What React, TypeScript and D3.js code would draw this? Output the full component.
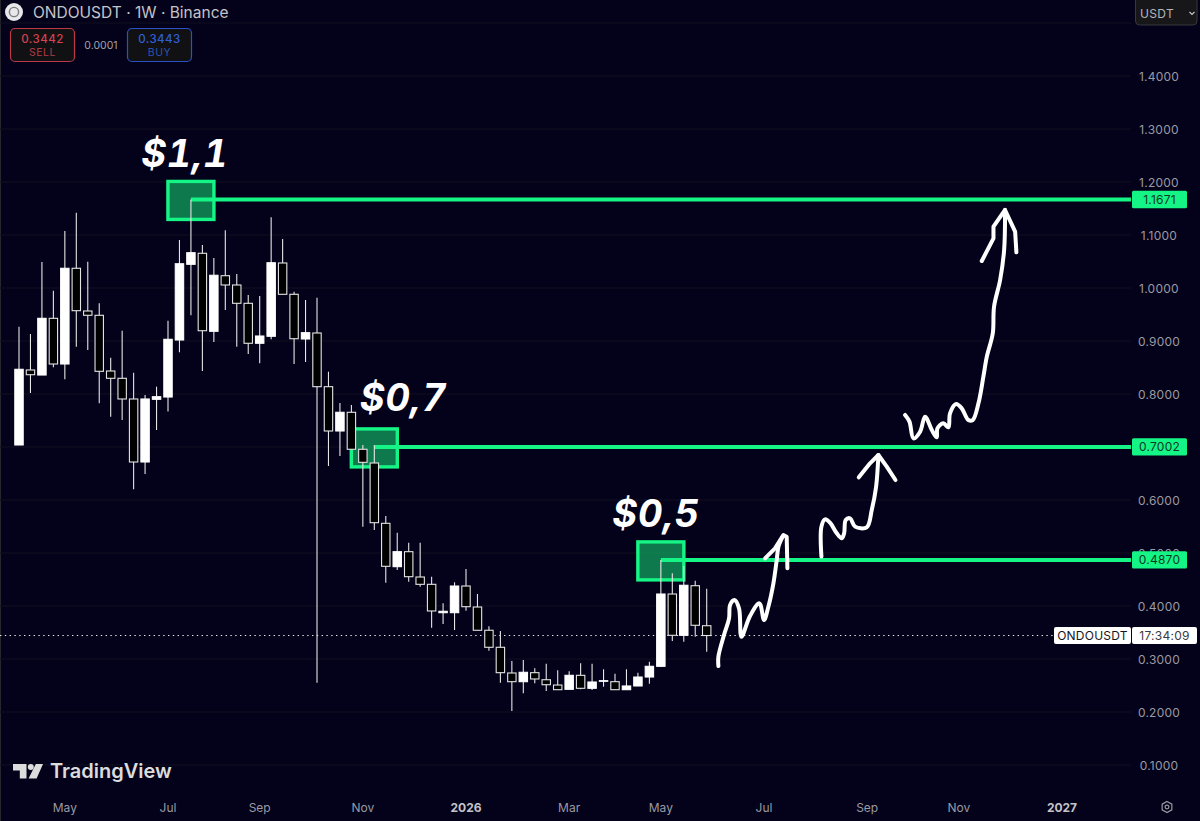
import * as d3 from 'd3'

const opens = [0.7038,0.8453,0.8358,0.9428,0.8566,1.0372,0.9566,0.9485,0.8434,0.8296,0.7906,0.6717,0.79,0.7943,0.9019,1.0447,1.0655,0.9183,1.0232,1.0057,0.9711,0.8957,0.9089,1.0472,0.9881,0.9038,0.9151,0.8138,0.7302,0.7655,0.6957,0.6698,0.556,0.4742,0.5025,0.4547,0.4409,0.3874,0.3874,0.4377,0.3981,0.3542,0.3221,0.2736,0.2572,0.2742,0.2609,0.2509,0.2428,0.2692,0.2447,0.2579,0.2572,0.2421,0.2491,0.266,0.2862,0.4226,0.3447,0.4383,0.3628]
const highs = [0.927,0.9132,1.0491,0.9949,1.1075,1.1421,1.0496,0.9711,0.8685,0.9194,0.8402,0.7981,0.8138,0.9383,1.0906,1.1671,1.0811,1.0566,1.1089,1.0264,0.9868,0.9849,1.1334,1.0925,0.993,0.9774,0.9817,0.8421,0.783,0.7792,0.7038,0.7038,0.5698,0.5383,0.5194,0.5194,0.4553,0.4051,0.4447,0.4698,0.4226,0.3617,0.3528,0.2962,0.2981,0.2825,0.2911,0.2787,0.2768,0.2919,0.2911,0.2806,0.2723,0.2806,0.2742,0.2949,0.487,0.4617,0.4755,0.4477,0.4326]
const lows = [0.7038,0.8019,0.8358,0.8504,0.8277,0.8892,0.883,0.7825,0.7572,0.7509,0.6202,0.6491,0.7321,0.767,0.8787,0.9485,0.8434,0.8981,0.9585,0.8892,0.8755,0.8579,0.9032,0.9881,0.8566,0.8604,0.2553,0.6642,0.683,0.6957,0.5496,0.5434,0.444,0.4679,0.4458,0.4364,0.3591,0.366,0.3547,0.3911,0.3542,0.3157,0.2553,0.2019,0.2353,0.2542,0.2396,0.2415,0.2428,0.2428,0.2415,0.2477,0.2421,0.2421,0.2491,0.2534,0.2849,0.334,0.3326,0.3421,0.3138]
const closes = [0.8466,0.8364,0.9428,0.8566,1.0372,0.9572,0.9485,0.8428,0.8296,0.7906,0.6717,0.7906,0.7949,0.9032,1.0458,1.0666,0.9194,1.024,1.0057,0.9711,0.8957,0.9094,1.0477,0.9881,0.9043,0.9157,0.8138,0.7302,0.7655,0.6957,0.6711,0.5572,0.4749,0.5025,0.4553,0.4409,0.3906,0.39,0.4377,0.3987,0.3542,0.3221,0.2742,0.2572,0.2749,0.2623,0.2515,0.2421,0.2692,0.2447,0.2566,0.2591,0.2421,0.2491,0.266,0.2862,0.4226,0.3447,0.4391,0.3636,0.3443]

const priceTicks = [1.4, 1.3, 1.2, 1.1, 1.0, 0.9, 0.8, 0.7, 0.6, 0.5, 0.4, 0.3, 0.2, 0.1]
const gridOnly = [1.5]

const timeBars = [4, 13, 21, 30, 39, 48, 56, 65, 74, 82, 91]
const timeLabels = ['May', 'Jul', 'Sep', 'Nov', '2026', 'Mar', 'May', 'Jul', 'Sep', 'Nov', '2027']

// drawn levels: bar where the line starts, the price, and what was written over it
const levelBars = [15, 31, 56]
const levelPrices = [1.1671, 0.7002, 0.487]
const levelNames = ['$1,1', '$0,7', '$0,5']
const levelNameShift = [-6, 29, -5]
const levelNameRise = [33, 37, 34]

const lastPrice = 0.3443

// hand drawn arrows as [bar, price]
const arrowA: [number, number][] = [[61.02,0.2868],[61.02,0.3044],[61.51,0.3453],[61.95,0.3767],[62.04,0.4019],[62.42,0.4113],[62.82,0.3956],[63.03,0.3421],[63.78,0.3811],[64.6,0.405],[65.0,0.3736],[65.38,0.3987],[65.82,0.4428],[66.11,0.4868],[66.26,0.5119],[66.63,0.5308]]
const arrowAHead: [number, number][] = [[65.09,0.4899],[65.96,0.5088],[66.69,0.534],[66.98,0.5308],[67.04,0.4711]]
const arrowB: [number, number][] = [[70.01,0.4931],[70.01,0.5497],[70.33,0.5635],[70.76,0.5572],[71.35,0.5371],[71.78,0.5277],[71.99,0.5371],[72.13,0.5623],[72.51,0.5654],[72.95,0.5497],[73.96,0.5484],[74.4,0.5811],[74.78,0.6252],[74.98,0.6849]]
const arrowBHead: [number, number][] = [[73.27,0.6428],[74.25,0.6692],[74.98,0.6849],[75.71,0.6629],[76.47,0.6377]]
const arrowC: [number, number][] = [[77.31,0.7604],[77.69,0.7478],[78.04,0.7163],[78.62,0.7289],[79.05,0.7572],[79.64,0.7321],[80.07,0.7182],[80.13,0.7352],[80.65,0.7446],[81.09,0.7371],[81.23,0.7635],[81.76,0.7811],[82.25,0.7729],[82.83,0.7509],[83.21,0.7509],[83.71,0.7824],[84.14,0.8327],[84.44,0.8704],[84.96,0.9145],[85.07,0.9648],[85.6,1.0151],[85.95,1.0717],[86.03,1.1472]]
const arrowCHead: [number, number][] = [[84.0,1.0509],[85.02,1.0937],[85.02,1.1157],[86.03,1.1472],[86.91,1.1063],[87.02,1.0673]]

const COLORS = {
  BG: '#04021a',
  GRID: '#0f0e20',
  GREEN: '#15f585',
  AXIS: '#9a9aa2',
}
const UI_FONT = 'Inter, "Noto Sans", sans-serif'

export default function App() {
  const width = 1200
  const height = 821
  const plotRight = 1131

  const x = d3.scaleLinear().domain([0, 60]).range([19, 706.7])
  const y = d3.scaleLinear().domain([0.4, 0.3]).range([606, 659])

  const stroke = d3.line<[number, number]>()
    .x(d => x(d[0]))
    .y(d => y(d[1]))
    .curve(d3.curveCatmullRom.alpha(0.5))
  const head = d3.line<[number, number]>()
    .x(d => x(d[0]))
    .y(d => y(d[1]))

  const bodyWidth = 8.4

  return (
    <svg
      width={width}
      height={height}
      viewBox={`0 0 ${width} ${height}`}
      style={{position: 'absolute', left: 0, top: 0, display: 'block'}}
      fontFamily={UI_FONT}
    >
      <rect width={width} height={height} fill={COLORS.BG} />
      <line x1={0.5} x2={0.5} y1={0} y2={height} stroke={'#26262e'} />

      {/* grid */}
      {[...gridOnly, ...priceTicks].map(p => (
        <line key={p} x1={0} x2={plotRight} y1={y(p)} y2={y(p)} stroke={COLORS.GRID} strokeWidth={1.2} />
      ))}

      {/* level boxes sit under the candles */}
      {levelBars.map((b, i) => (
        <rect
          key={b}
          x={x(b) - 23}
          y={y(levelPrices[i]) + 1 - 19}
          width={46}
          height={38}
          fill={'rgba(22,240,127,0.5)'}
          stroke={COLORS.GREEN}
          strokeWidth={3.4}
        />
      ))}
      {levelBars.map((b, i) => (
        <line
          key={b}
          x1={x(b)}
          x2={plotRight}
          y1={y(levelPrices[i])}
          y2={y(levelPrices[i])}
          stroke={COLORS.GREEN}
          strokeWidth={4}
        />
      ))}

      {/* last price line */}
      <line
        x1={0}
        x2={1054}
        y1={y(lastPrice)}
        y2={y(lastPrice)}
        stroke={'#e8e8e8'}
        strokeDasharray={'1.4 3.4'}
      />

      {/* candles */}
      {opens.map((o, i) => {
        const c = closes[i]
        const up = c >= o
        const top = y(Math.max(o, c))
        const bottom = y(Math.min(o, c))
        return (
          <g key={i}>
            <line x1={x(i)} x2={x(i)} y1={y(highs[i])} y2={y(lows[i])} stroke={'#e6e6e6'} strokeWidth={1.1} />
            <rect
              x={x(i) - bodyWidth / 2}
              y={top}
              width={bodyWidth}
              height={Math.max(bottom - top, 0.6)}
              fill={up ? '#ffffff' : '#000000'}
              stroke={up ? '#ffffff' : '#e4e4e4'}
              strokeWidth={1.1}
            />
          </g>
        )
      })}

      {/* hand drawn arrows */}
      <g fill={'none'} stroke={'#ffffff'} strokeWidth={4} strokeLinecap={'round'} strokeLinejoin={'round'}>
        {[arrowA, arrowB, arrowC].map((a, i) => <path key={i} d={stroke(a) ?? undefined} />)}
        {[arrowAHead, arrowBHead, arrowCHead].map((a, i) => <path key={i} d={head(a) ?? undefined} />)}
      </g>

      {/* written level names */}
      {levelBars.map((b, i) => (
        <text
          key={b}
          x={x(b) + levelNameShift[i]}
          y={y(levelPrices[i]) + 1 - levelNameRise[i]}
          textAnchor={'middle'}
          fill={'#ffffff'}
          fontSize={38}
          fontWeight={700}
          fontStyle={'italic'}
          letterSpacing={'0.02em'}
          style={{fontVariantNumeric: 'tabular-nums'}}
        >
          {levelNames[i]}
        </text>
      ))}

      {/* price axis */}
      <g fontSize={12} fill={COLORS.AXIS} textAnchor={'middle'} letterSpacing={'0.02em'}>
        {priceTicks.map(p => (
          <text key={p} x={1159} y={y(p) + 4.5}>{p.toFixed(4)}</text>
        ))}
      </g>
      {levelPrices.map(p => (
        <g key={p}>
          <rect x={1132} y={y(p) - 8.7} width={55} height={17.4} rx={1.5} fill={COLORS.GREEN} />
          <text x={1159.5} y={y(p) + 4.5} textAnchor={'middle'} fontSize={12} fill={'#0c3a26'} letterSpacing={'0.02em'}>
            {p.toFixed(4)}
          </text>
        </g>
      ))}

      {/* last price tag */}
      <rect x={1054} y={y(lastPrice) - 8.5} width={77} height={17} rx={2} fill={'#ffffff'} />
      <rect x={1132} y={y(lastPrice) - 8.5} width={65} height={17} rx={2} fill={'#ffffff'} />
      <text x={1092.5} y={y(lastPrice) + 4.5} textAnchor={'middle'} fontSize={12} fill={'#16161a'} letterSpacing={'0.02em'}>ONDOUSDT</text>
      <text x={1164.5} y={y(lastPrice) + 4.5} textAnchor={'middle'} fontSize={12} fill={'#3a3a40'} letterSpacing={'0.02em'}>17:34:09</text>

      {/* time axis */}
      <g fontSize={12} fill={COLORS.AXIS} textAnchor={'middle'}>
        {timeBars.map((b, i) => (
          <text
            key={b}
            x={x(b)}
            y={812}
            fontWeight={timeLabels[i].length === 4 ? 700 : 400}
            fill={timeLabels[i].length === 4 ? '#c4c4c8' : COLORS.AXIS}
          >
            {timeLabels[i]}
          </text>
        ))}
      </g>
      <g fill={'none'} stroke={COLORS.AXIS} strokeWidth={1.2}>
        <path d={d3.lineRadial().angle((_, i) => i * Math.PI / 3).radius(5.6).curve(d3.curveLinearClosed)([[0, 0], [0, 0], [0, 0], [0, 0], [0, 0], [0, 0]]) ?? undefined} transform={'translate(1167,807)'} />
        <circle cx={1167} cy={807} r={1.9} />
      </g>

      {/* watermark */}
      <g fill={'#dcdcdc'}>
        <path d={'M13 764 H26.5 V778.5 H19.8 V770.6 H13 Z'} />
        <circle cx={30.8} cy={767} r={3} />
        <path d={'M35.8 764 H43 L36.6 778.5 H28.6 Z'} />
        <text x={50} y={778} fontSize={20} fontWeight={600}>TradingView</text>
      </g>

      {/* header */}
      <circle cx={14} cy={12} r={9} fill={'#e8e8ea'} />
      <circle cx={14} cy={12} r={4.6} fill={'none'} stroke={'#7a7a80'} strokeWidth={1.4} />
      <text x={33} y={18} fontSize={15.5} fill={'#c4c4c8'}>ONDOUSDT · 1W · Binance</text>

      <rect x={10.5} y={28.5} width={64} height={33} rx={4.5} fill={'#111114'} stroke={'#bc3a47'} strokeWidth={1.2} />
      <text x={42.5} y={43} textAnchor={'middle'} fontSize={11.5} fontWeight={500} fill={'#d5404e'} letterSpacing={'0.04em'}>0.3442</text>
      <text x={42.5} y={56} textAnchor={'middle'} fontSize={10.5} fill={'#b03a45'} letterSpacing={'0.05em'}>SELL</text>
      <text x={101} y={49} textAnchor={'middle'} fontSize={10.5} fill={'#a2a2a8'}>0.0001</text>
      <rect x={127.5} y={28.5} width={64} height={33} rx={4.5} fill={'#111114'} stroke={'#2a52c4'} strokeWidth={1.2} />
      <text x={159.5} y={43} textAnchor={'middle'} fontSize={11.5} fontWeight={500} fill={'#2f5fd6'} letterSpacing={'0.04em'}>0.3443</text>
      <text x={159.5} y={56} textAnchor={'middle'} fontSize={10.5} fill={'#2a52b0'} letterSpacing={'0.05em'}>BUY</text>

      {/* currency button */}
      <rect x={1135.5} y={-4} width={61.5} height={29} rx={4} fill={'#17171a'} stroke={'#36363c'} />
      <text x={1140} y={18} fontSize={12} fill={'#b6b6ba'} letterSpacing={'0.03em'}>USDT</text>
      <path d={'M1189.5 12 L1192 14.4 L1194.5 12'} fill={'none'} stroke={'#c4c4c8'} strokeWidth={1.2} />
    </svg>
  )
}
